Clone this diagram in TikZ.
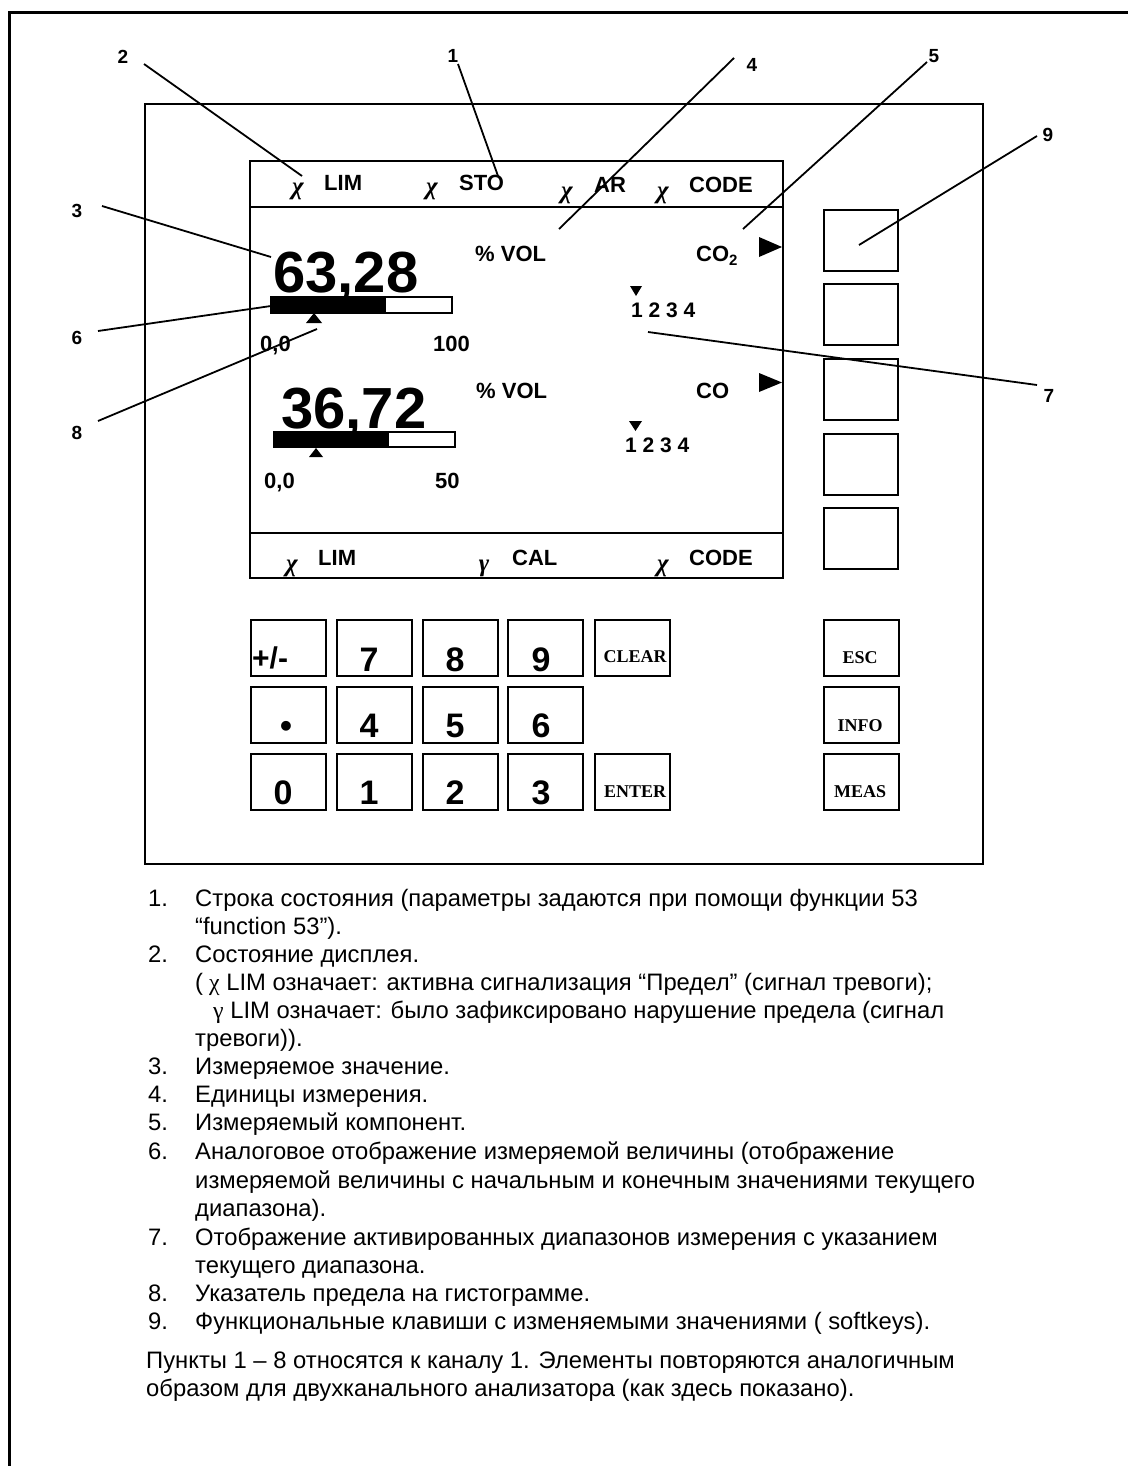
\documentclass[tikz,border=0pt]{standalone}
\usepackage{fontspec}
\setmainfont{Liberation Sans}[BoldFont={Liberation Sans Bold}]
\newfontfamily\tnr{Liberation Serif}[BoldFont={Liberation Serif Bold},ItalicFont={Liberation Serif Italic},BoldItalicFont={Liberation Serif Bold Italic}]
\newcommand\fsz[1]{\fontsize{#1}{#1}\selectfont}
\begin{document}
\begin{tikzpicture}[x=1pt,y=-1pt,
  lbl/.style={inner sep=0,font=\fsz{19}\bfseries},
  ldr/.style={line width=1.8pt},
  st/.style={anchor=base west,inner sep=0,font=\fsz{22}\bfseries},
  gk/.style={anchor=base,inner sep=0,font=\fsz{25}\tnr\bfseries\itshape},
  key/.style={draw,line width=2pt,anchor=north west,inner sep=0,minimum width=75pt,minimum height=56pt},
  soft/.style={draw,line width=2.4pt,anchor=north west,inner sep=0,minimum width=74pt,minimum height=61pt},
  dig/.style={anchor=base,inner sep=0,font=\fsz{34}\bfseries},
  tk/.style={anchor=base,inner sep=0,font=\fsz{18}\tnr\bfseries},
  big/.style={anchor=base west,inner sep=0,font=\fsz{58}\bfseries},
  txt/.style={anchor=base west,inner sep=0,font=\fsz{23.8}}
]
\useasboundingbox (0,0) rectangle (1127,1466);
\fill[white] (0,0) rectangle (1127,1466);
% outer frame
\draw[line width=3pt] (1140,13) -- (9,13) -- (9,1480);
% device
\draw[line width=2pt] (145,104) rectangle (983,864);
% display
\draw[line width=2.6pt] (250,161) rectangle (783,578);
\draw[line width=2.6pt] (250,207) -- (783,207);
\draw[line width=2.6pt] (250,533) -- (783,533);

% top status line
\node[gk] (g1) at (298,195) {χ};
\node[st] (s1) at (324,190) {LIM};
\node[gk] (g2) at (432,195) {χ};
\node[st] (s2) at (459,190) {STO};
\node[gk] (g3) at (567,198) {χ};
\node[st] (s3) at (594,193) {AR};
\node[gk] (g4) at (663,198) {χ};
\node[st] (s4) at (689,193) {CODE};

% channel 1
\node[big] (v1) at (273,292) {63,28};
\draw[line width=2pt] (271,297) rectangle (452,313);
\fill (271,297) rectangle (386,313);
\fill (314,313) -- (322,323) -- (306,323) -- cycle;
\node[st] (lo1) at (260,351) {0,0};
\node[st] (hi1) at (433,351) {100};
\node[st] (u1) at (475,261) {\% VOL};
\node[st] (c1) at (696,261) {CO{\fsz{15}\raisebox{-4pt}{2}}};
\fill (759,237) -- (782,247) -- (759,257) -- cycle;
\fill (630,286) -- (642,286) -- (636,296) -- cycle;
\node[anchor=base west,inner sep=0,font=\fsz{21}\bfseries] (r1) at (631,317) {1 2 3 4};

% channel 2
\node[big] (v2) at (281,428) {36,72};
\draw[line width=2pt] (274,432) rectangle (455,447);
\fill (274,432) rectangle (389,447);
\fill (316,448) -- (323,457) -- (309,457) -- cycle;
\node[st] (lo2) at (264,488) {0,0};
\node[st] (hi2) at (435,488) {50};
\node[st] (u2) at (476,398) {\% VOL};
\node[st] (c2) at (696,398) {CO};
\fill (759,373) -- (782,382.5) -- (759,392) -- cycle;
\fill (629,421) -- (642,421) -- (635.5,431) -- cycle;
\node[anchor=base west,inner sep=0,font=\fsz{21}\bfseries] (r2) at (625,452) {1 2 3 4};

% bottom status line
\node[gk] (g5) at (292,571) {χ};
\node[st] (b1) at (318,565) {LIM};
\node[gk] (g6) at (484,571) {γ};
\node[st] (b2) at (512,565) {CAL};
\node[gk] (g7) at (663,571) {χ};
\node[st] (b3) at (689,565) {CODE};

% softkeys
\node[soft] (sk1) at (823,209) {};
\node[soft] (sk2) at (823,283) {};
\node[soft] (sk3) at (823,358) {};
\node[soft] (sk4) at (823,433) {};
\node[soft] (sk5) at (823,507) {};

% keypad
\node[key] (kpm) at (250,619) {};
\node[key] (k7) at (336,619) {};
\node[key] (k8) at (422,619) {};
\node[key] (k9) at (507,619) {};
\node[key] (kcl) at (594,619) {};
\node[key] (kdot) at (250,686) {};
\node[key] (k4) at (336,686) {};
\node[key] (k5) at (422,686) {};
\node[key] (k6) at (507,686) {};
\node[key] (k0) at (250,753) {};
\node[key] (k1) at (336,753) {};
\node[key] (k2) at (422,753) {};
\node[key] (k3) at (507,753) {};
\node[key] (ken) at (594,753) {};
\node[key] (kesc) at (823,619) {};
\node[key] (kinf) at (823,686) {};
\node[key] (kmea) at (823,753) {};

\node[anchor=base west,inner sep=0,font=\fsz{30}\bfseries] (tpm) at (252,668) {+/-};
\node[dig] (t7) at (369,671) {7};
\node[dig] (t8) at (455,671) {8};
\node[dig] (t9) at (541,671) {9};
\node[dig] (tdot) at (286,737) {•};
\node[dig] (t4) at (369,737) {4};
\node[dig] (t5) at (455,737) {5};
\node[dig] (t6) at (541,737) {6};
\node[dig] (t0) at (283,804) {0};
\node[dig] (t1) at (369,804) {1};
\node[dig] (t2) at (455,804) {2};
\node[dig] (t3) at (541,804) {3};
\node[tk] (tcl) at (635,662) {CLEAR};
\node[tk] (ten) at (635,797) {ENTER};
\node[tk] (tesc) at (860,663) {ESC};
\node[tk] (tinf) at (860,731) {INFO};
\node[tk] (tmea) at (860,797) {MEAS};

% callout labels and leaders
\node[lbl] (n1) at (453,56) {1};
\node[lbl] (n2) at (123,57) {2};
\node[lbl] (n3) at (77,211) {3};
\node[lbl] (n4) at (752,65) {4};
\node[lbl] (n5) at (934,56) {5};
\node[lbl] (n6) at (77,338) {6};
\node[lbl] (n7) at (1049,396) {7};
\node[lbl] (n8) at (77,433) {8};
\node[lbl] (n9) at (1048,135) {9};
\coordinate (a1) at (458,64);  \coordinate (e1) at (498,176);
\coordinate (a2) at (144,64);  \coordinate (e2) at (302,176);
\coordinate (a3) at (102,206); \coordinate (e3) at (271,257);
\coordinate (a4) at (734,58);  \coordinate (e4) at (559,229);
\coordinate (a5) at (927,62);  \coordinate (e5) at (743,229);
\coordinate (a6) at (98,331);  \coordinate (e6) at (271,306);
\coordinate (a7) at (1037,385); \coordinate (e7) at (648,332);
\coordinate (a8) at (98,421);  \coordinate (e8) at (317,329);
\coordinate (a9) at (1037,136); \coordinate (e9) at (859,245);
\foreach \i in {1,...,9} {\draw[ldr] (a\i) -- (e\i);}

% legend text
\node[txt] (l1n) at (148,906) {1.};
\node[txt] (l1) at (195,906) {Строка состояния (параметры задаются при помощи функции 53};
\node[txt] (l1b) at (195,934) {“function 53”).};
\node[txt] (l2n) at (148,962) {2.};
\node[txt] (l2) at (195,962) {Состояние дисплея.};
\node[txt] (l2b) at (195,990) {(\hspace{6pt}{\tnr χ} LIM означает: активна сигнализация “Предел” (сигнал тревоги);};
\node[txt] (l2c) at (213,1018) {{\tnr γ} LIM означает: было зафиксировано нарушение предела (сигнал};
\node[txt] (l2d) at (195,1046) {тревоги)).};
\node[txt] (l3n) at (148,1074) {3.};
\node[txt] (l3) at (195,1074) {Измеряемое значение.};
\node[txt] (l4n) at (148,1102) {4.};
\node[txt] (l4) at (195,1102) {Единицы измерения.};
\node[txt] (l5n) at (148,1130) {5.};
\node[txt] (l5) at (195,1130) {Измеряемый компонент.};
\node[txt] (l6n) at (148,1159) {6.};
\node[txt] (l6) at (195,1159) {Аналоговое отображение измеряемой величины (отображение};
\node[txt] (l6b) at (195,1188) {измеряемой величины с начальным и конечным значениями текущего};
\node[txt] (l6c) at (195,1216) {диапазона).};
\node[txt] (l7n) at (148,1245) {7.};
\node[txt] (l7) at (195,1245) {Отображение активированных диапазонов измерения с указанием};
\node[txt] (l7b) at (195,1273) {текущего диапазона.};
\node[txt] (l8n) at (148,1301) {8.};
\node[txt] (l8) at (195,1301) {Указатель предела на гистограмме.};
\node[txt] (l9n) at (148,1329) {9.};
\node[txt] (l9) at (195,1329) {Функциональные клавиши с изменяемыми значениями ( softkeys).};
\node[txt] (p1) at (146,1368) {Пункты 1 – 8 относятся к каналу 1. Элементы повторяются аналогичным};
\node[txt] (p2) at (146,1396) {образом для двухканального анализатора (как здесь показано).};
\end{tikzpicture}
\end{document}
